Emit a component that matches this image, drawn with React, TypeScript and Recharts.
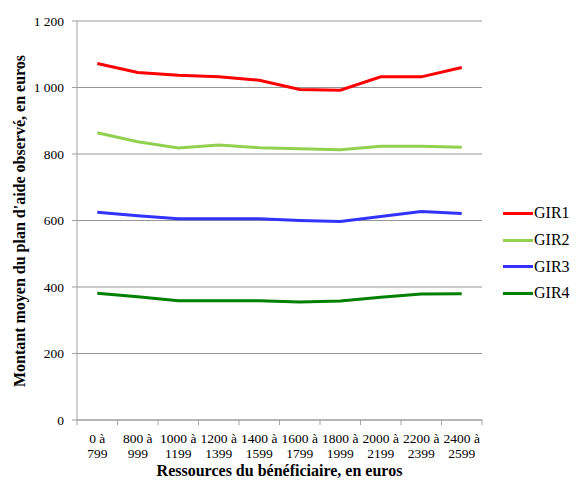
import React from 'react';
import { LineChart, Line, XAxis, YAxis, CartesianGrid } from 'recharts';

// tranches de ressources (x)
const categories = [
  '0 à 799',
  '800 à 999',
  '1000 à 1199',
  '1200 à 1399',
  '1400 à 1599',
  '1600 à 1799',
  '1800 à 1999',
  '2000 à 2199',
  '2200 à 2399',
  '2400 à 2599',
];

const gir1 = [1072, 1045, 1037, 1032, 1022, 994, 992, 1032, 1032, 1060];
const gir2 = [864, 837, 818, 827, 819, 816, 813, 823, 823, 820];
const gir3 = [625, 614, 605, 605, 605, 600, 597, 612, 627, 621];
const gir4 = [381, 371, 359, 359, 359, 355, 358, 369, 379, 380];

const yTicks = [0, 200, 400, 600, 800, 1000, 1200];

const series = [
  { key: 'GIR1', values: gir1, color: '#ff0000' },
  { key: 'GIR2', values: gir2, color: '#92d050' },
  { key: 'GIR3', values: gir3, color: '#3333ff' },
  { key: 'GIR4', values: gir4, color: '#008000' },
];

const data = categories.map((c, i) => {
  const row: Record<string, any> = { cat: c };
  series.forEach(s => (row[s.key] = s.values[i]));
  return row;
});

const FONT = "'Liberation Serif', 'Times New Roman', serif";
const AXIS = '#a0a0a0';
const GRID = '#979797';
const BAND = (482 - 77) / categories.length;

const fmtY = (v: number) => (v >= 1000 ? `${Math.floor(v / 1000)} ${String(v % 1000).padStart(3, '0')}` : String(v));

function XTick(props: any) {
  const { x, y, payload, index } = props;
  const [a, b] = String(payload.value).split(' à ');
  const isLast = index === categories.length - 1;
  return (
    <g>
      <line x1={x - BAND / 2} x2={x - BAND / 2} y1={y} y2={y + 5} stroke={AXIS} />
      {isLast && <line x1={x + BAND / 2} x2={x + BAND / 2} y1={y} y2={y + 5} stroke={AXIS} />}
      <text x={x} y={y + 23} textAnchor="middle" fontSize={13.5} fontFamily={FONT} fill="#000">
        {a} à
      </text>
      <text x={x} y={y + 38} textAnchor="middle" fontSize={13.5} fontFamily={FONT} fill="#000">
        {b}
      </text>
    </g>
  );
}

// légende à droite, hors du graphique pour ne pas réduire la zone de tracé
function LegendBox() {
  return (
    <div style={{ position: 'absolute', left: 503, top: 200, fontFamily: FONT, fontSize: 16, color: '#000' }}>
      {series.map(s => (
        <div key={s.key} style={{ display: 'flex', alignItems: 'center', height: 26.7 }}>
          <span style={{ display: 'inline-block', width: 30, height: 3, background: s.color, marginRight: 1 }} />
          <span>{s.key}</span>
        </div>
      ))}
    </div>
  );
}

export default function App() {
  return (
    <div style={{ position: 'absolute', left: 0, top: 0, width: 576, height: 481, background: '#fff' }}>
      <LineChart width={576} height={481} data={data} margin={{ top: 21, right: 94, bottom: 0, left: 0 }}>
        <CartesianGrid vertical={false} stroke={GRID} />
        <XAxis
          dataKey="cat"
          height={61}
          stroke={AXIS}
          padding={{ left: BAND / 2, right: BAND / 2 }}
          tickLine={false}
          tickSize={0}
          tickMargin={0}
          interval={0}
          tick={<XTick />}
          label={(p: any) => {
            const vb = p.viewBox || { x: 77, y: 420, width: 405 };
            return (
              <text
                x={vb.x + vb.width / 2}
                y={vb.y + 56}
                textAnchor="middle"
                fontSize={16}
                fontWeight="bold"
                fontFamily={FONT}
                fill="#000"
              >
                Ressources du bénéficiaire, en euros
              </text>
            );
          }}
        />
        <YAxis
          width={77}
          domain={[0, 1200]}
          ticks={yTicks}
          stroke={AXIS}
          tickSize={5}
          tickMargin={8}
          tickFormatter={fmtY}
          tick={{ fontSize: 13.5, fontFamily: FONT, fill: '#000' }}
          label={() => (
            <text
              x={25}
              y={221}
              transform="rotate(-90 25 221)"
              textAnchor="middle"
              fontSize={16}
              fontWeight="bold"
              fontFamily={FONT}
              fill="#000"
            >
              Montant moyen du plan d'aide observé, en euros
            </text>
          )}
        />
        {series.map(s => (
          <Line
            key={s.key}
            type="linear"
            dataKey={s.key}
            name={s.key}
            stroke={s.color}
            strokeWidth={3}
            dot={false}
            activeDot={false}
            isAnimationActive={false}
          />
        ))}
      </LineChart>
      <LegendBox />
    </div>
  );
}
